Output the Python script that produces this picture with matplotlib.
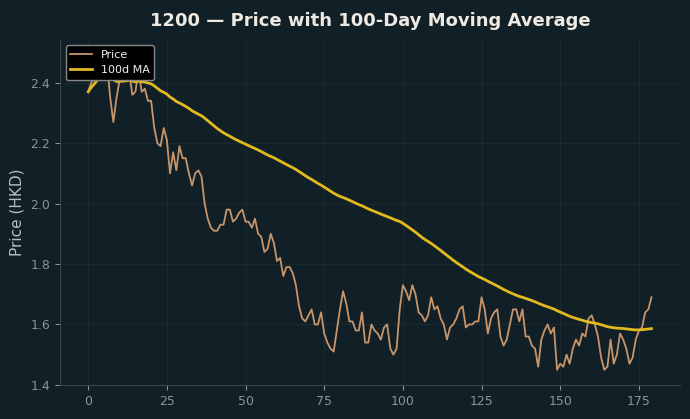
import numpy as np
import pandas as pd
import matplotlib
matplotlib.use("Agg")
import matplotlib.pyplot as plt

# price readings, one per trading day
price = [
    2.37, 2.40, 2.42, 2.45, 2.48, 2.49, 2.46, 2.35, 2.27, 2.35,
    2.41, 2.41, 2.42, 2.44, 2.36, 2.37, 2.44, 2.37, 2.38, 2.34,
    2.34, 2.25, 2.20, 2.19, 2.25, 2.21, 2.10, 2.17, 2.11, 2.19,
    2.15, 2.15, 2.10, 2.06, 2.10, 2.11, 2.09, 2.00, 1.95, 1.92,
    1.91, 1.91, 1.93, 1.93, 1.98, 1.98, 1.94, 1.95, 1.97, 1.98,
    1.94, 1.94, 1.92, 1.95, 1.90, 1.89, 1.84, 1.85, 1.90, 1.87,
    1.81, 1.82, 1.76, 1.79, 1.79, 1.77, 1.73, 1.66, 1.62, 1.61,
    1.63, 1.65, 1.60, 1.60, 1.64, 1.57, 1.54, 1.52, 1.51, 1.58,
    1.65, 1.71, 1.67, 1.61, 1.61, 1.58, 1.58, 1.64, 1.54, 1.54,
    1.60, 1.58, 1.57, 1.55, 1.59, 1.60, 1.52, 1.50, 1.52, 1.65,
    1.73, 1.71, 1.68, 1.73, 1.70, 1.64, 1.63, 1.61, 1.63, 1.69,
    1.65, 1.66, 1.62, 1.60, 1.55, 1.59, 1.60, 1.62, 1.65, 1.66,
    1.59, 1.60, 1.60, 1.61, 1.61, 1.69, 1.65, 1.57, 1.62, 1.64,
    1.65, 1.56, 1.53, 1.55, 1.60, 1.65, 1.65, 1.61, 1.65, 1.56,
    1.56, 1.53, 1.52, 1.46, 1.55, 1.58, 1.60, 1.57, 1.59, 1.45,
    1.47, 1.46, 1.50, 1.47, 1.52, 1.55, 1.53, 1.57, 1.56, 1.62,
    1.63, 1.60, 1.56, 1.49, 1.45, 1.46, 1.55, 1.47, 1.50, 1.57,
    1.55, 1.52, 1.47, 1.49, 1.55, 1.58, 1.59, 1.64, 1.65, 1.69,
]
days = np.arange(len(price))
ma = pd.Series(price).rolling(100, min_periods=1).mean()

BG = "#111f26"
fig, ax = plt.subplots(figsize=(6.9, 4.19), dpi=100)
fig.patch.set_facecolor(BG)
ax.set_facecolor(BG)

ax.plot(days, price, color="#c8956a", lw=1.3, label="Price")
ax.plot(days, ma, color="#e2b91e", lw=2.0, label="100d MA")

ax.set_title("1200 \u2014 Price with 100-Day Moving Average",
             color="#eeeae2", fontsize=13, fontweight="bold", pad=10)
ax.set_ylabel("Price (HKD)", color="#b8bec2", fontsize=11)
ax.tick_params(colors="#8a9499", labelsize=9)
ax.set_yticks([1.4, 1.6, 1.8, 2.0, 2.2, 2.4])
ax.grid(True, color="#1d2c33", lw=0.6)
for s in ["top", "right"]:
    ax.spines[s].set_visible(False)
for s in ["left", "bottom"]:
    ax.spines[s].set_color("#3a4448")

leg = ax.legend(loc="upper left", facecolor="black", edgecolor="#888888",
                fontsize=8, labelcolor="#eeeeee", framealpha=1.0)

plt.subplots_adjust(left=0.087, right=0.985, top=0.905, bottom=0.08)
plt.savefig("out.png", dpi=100, facecolor=BG)
